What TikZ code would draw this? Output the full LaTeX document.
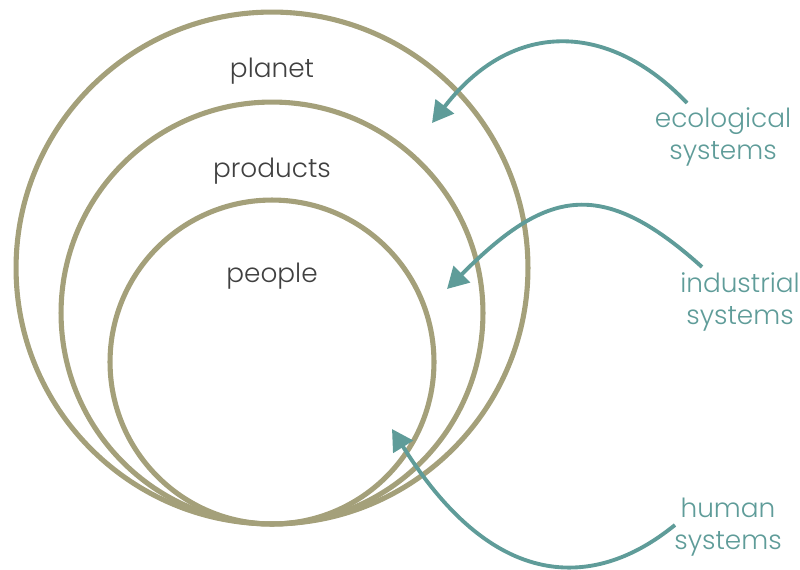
\documentclass[tikz,border=0pt]{standalone}
\usepackage{fontspec}
\setmainfont{Poppins}[UprightFont=* Light]
\usetikzlibrary{arrows.meta}
\definecolor{ringcol}{HTML}{A4A07A}
\definecolor{tealarr}{HTML}{5F9C99}
\definecolor{txtgray}{HTML}{404040}

\begin{document}
\begin{tikzpicture}[x=0.02cm, y=-0.02cm,
  ring/.style={draw=ringcol, line width=2.9pt},
  lbl/.style={text=txtgray, inner sep=1pt, font=\fontsize{15}{18}\selectfont},
  sys/.style={text=tealarr, align=center, inner sep=1pt, font=\fontsize{15}{18}\selectfont},
  flow/.style={draw=tealarr, line width=2.2pt, -{Triangle[length=12pt, width=13pt]}}]
\useasboundingbox (0,0) rectangle (800,569);
% nested rings, all touching at the bottom
\foreach \cy/\r in {268/5.12cm, 313/4.22cm, 362/3.24cm}{
  \draw[ring] (272,\cy) circle[radius=\r];
}
\node[lbl] (planet)   at (272,71)  {planet};
\node[lbl] (products) at (272,171) {products};
\node[lbl] (people)   at (272,276) {people};

% system labels and their arrows
\node[sys] (eco) at (723,137) {ecological\\systems};
\node[sys] (ind) at (740,302) {industrial\\systems};
\node[sys] (hum) at (728,527) {human\\systems};
\coordinate (ecotail) at (687,103);
\coordinate (ecotip)  at (432,123);
\coordinate (indtail) at (702,267);
\coordinate (indtip)  at (447,289);
\coordinate (humtail) at (675,525);
\coordinate (humtip)  at (392,429);
\draw[flow] (ecotail) .. controls (610,22) and (513,18) .. (ecotip);
\draw[flow] (indtail) .. controls (600,175) and (545,191) .. (indtip);
\draw[flow] (humtail) .. controls (654,541) and (529,648) .. (humtip);
\end{tikzpicture}
\end{document}
